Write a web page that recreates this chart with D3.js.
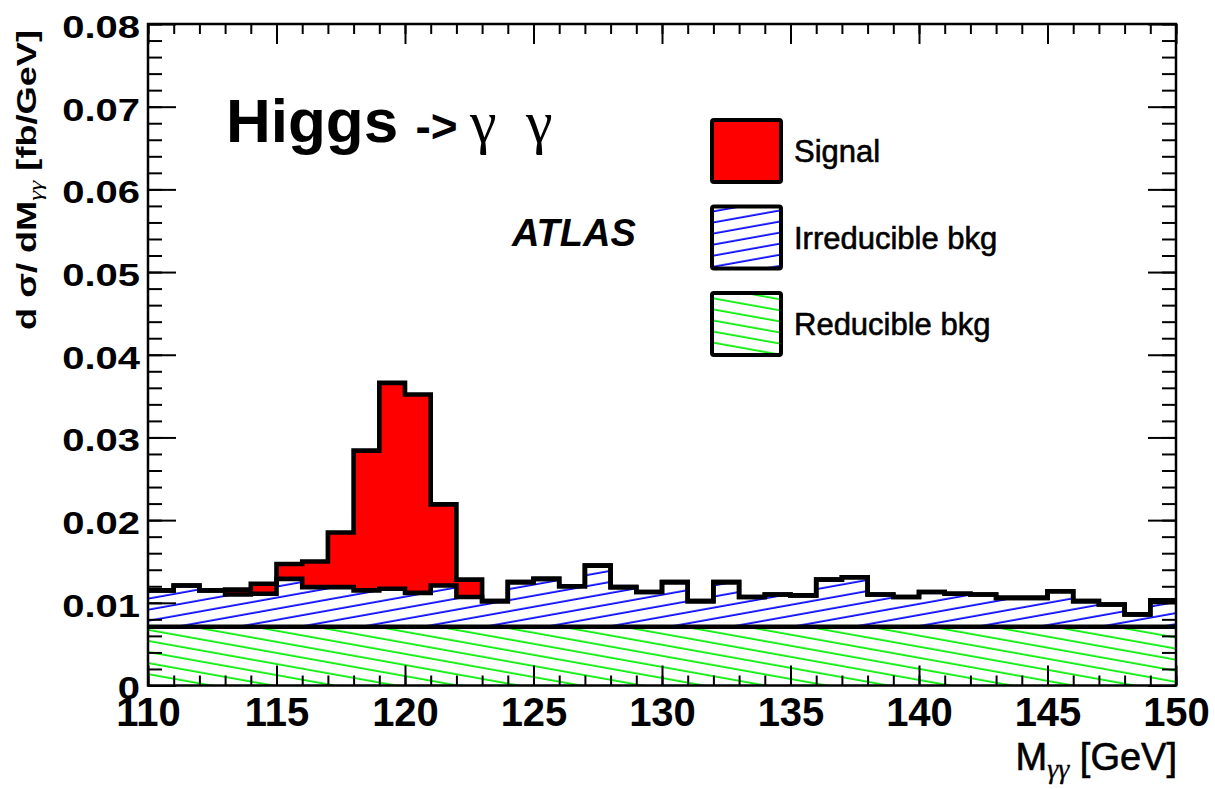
<!DOCTYPE html>
<html><head><meta charset="utf-8">
<script src="https://cdn.jsdelivr.net/npm/d3@7"></script>
<style>
body{margin:0;background:#fff}
svg{display:block}
svg text{fill:#000}
</style></head><body>
<svg id="chart" width="1215" height="789"></svg>
<script>
// Diphoton invariant mass, 1 GeV bins from 110 to 150 GeV
const binLow = [110,111,112,113,114,115,116,117,118,119,120,121,122,123,124,125,126,127,128,129,
                130,131,132,133,134,135,136,137,138,139,140,141,142,143,144,145,146,147,148,149];
const binHigh = 150;
// d sigma / dM [fb/GeV] per bin, stacked bottom to top
const reducible = [0.0071,0.0071,0.0071,0.0071,0.0071,0.0071,0.0071,0.0071,0.0071,0.0071,
                   0.0071,0.0071,0.0071,0.0071,0.0071,0.0071,0.0071,0.0071,0.0071,0.0071,
                   0.0071,0.0071,0.0071,0.0071,0.0071,0.0071,0.0071,0.0071,0.0071,0.0071,
                   0.0071,0.0071,0.0071,0.0071,0.0071,0.0071,0.0071,0.0071,0.0071,0.0071];
const irreducible = [0.0044,0.0050,0.0044,0.0039,0.0040,0.0058,0.0048,0.0048,0.0044,0.0046,
                     0.0041,0.0050,0.0036,0.0031,0.0054,0.0058,0.0049,0.0074,0.0048,0.0042,
                     0.0054,0.0031,0.0054,0.0036,0.0039,0.0038,0.0057,0.0060,0.0039,0.0036,
                     0.0042,0.0040,0.0039,0.0035,0.0035,0.0043,0.0031,0.0027,0.0015,0.0032];
const signal = [0,0,0,0.0006,0.0012,0.0018,0.0031,0.0066,0.0169,0.0249,
                0.0240,0.0098,0.0021,0,0,0,0,0,0,0,
                0,0,0,0,0,0,0,0,0,0,
                0,0,0,0,0,0,0,0,0,0];
const xMajorTicks = [110,115,120,125,130,135,140,145,150];
const yMajorTicks = [0,0.01,0.02,0.03,0.04,0.05,0.06,0.07,0.08];
const legendLabels = ["Signal","Irreducible bkg","Reducible bkg"];

const SANS = "'Liberation Sans', Arial, Helvetica, sans-serif";
const SERIF = "'Liberation Serif', 'Times New Roman', serif";

const svg = d3.select("#chart").style("font-family", SANS);
const L = 148, R = 1176, T = 24, B = 685.5;
const x = d3.scaleLinear().domain([110,150]).range([L,R]);
const y = d3.scaleLinear().domain([0,0.08]).range([B,T]);

// hatch patterns
const defs = svg.append("defs");
function hatch(id, color, angle, w) {
  const p = defs.append("pattern").attr("id", id)
    .attr("patternUnits","userSpaceOnUse")
    .attr("width", 60).attr("height", 10.9)
    .attr("patternTransform", `rotate(${angle})`);
  p.append("rect").attr("width",60).attr("height",10.9).attr("fill","#fff");
  p.append("line").attr("x1",0).attr("x2",60).attr("y1",5).attr("y2",5)
    .attr("stroke",color).attr("stroke-width",w);
}
hatch("hatchBlue","#0000ff",-10.2,1.7);
hatch("hatchGreen","#00ee00",10.2,1.7);
defs.append("clipPath").attr("id","plotClip").append("rect")
  .attr("x",L).attr("y",T).attr("width",R-L).attr("height",B-T);

// stacked rows, with a closing row at the upper edge for the step curve
const rows = binLow.map((b,i) => ({m:b, reducible:reducible[i], irreducible:irreducible[i], signal:signal[i]}));
rows.push({...rows[rows.length-1], m:binHigh});
const keys = ["reducible","irreducible","signal"];
const series = d3.stack().keys(keys)(rows);
const fills = {reducible:"url(#hatchGreen)", irreducible:"url(#hatchBlue)", signal:"#ff0000"};

const plot = svg.append("g").attr("clip-path","url(#plotClip)");
const area = d3.area().curve(d3.curveStepAfter)
  .x(d => x(d.data.m)).y0(d => y(d[0])).y1(d => y(d[1]));
const line = d3.line().curve(d3.curveStepAfter)
  .x(d => x(d.data.m)).y(d => y(d[1]));

plot.selectAll("path.fill").data(series).join("path").attr("class","fill")
  .attr("d", area).attr("fill", s => fills[s.key]).attr("stroke","none");
plot.selectAll("path.edge").data(series).join("path").attr("class","edge")
  .attr("d", line).attr("fill","none").attr("stroke","#000")
  .attr("stroke-width",4.6).attr("stroke-linejoin","miter");

// axes with inward ticks
function styleAxis(g) {
  g.select(".domain").remove();
  g.selectAll(".tick line").attr("stroke","#000").attr("stroke-width",2);
}
const xMinor = d3.range(110,151,1);
const yMinor = d3.range(0,0.0801,0.002);

svg.append("g").attr("transform",`translate(0,${B})`)
  .call(d3.axisBottom(x).tickValues(xMinor).tickSize(-10).tickFormat(""))
  .call(styleAxis);
const xAx = svg.append("g").attr("transform",`translate(0,${B})`)
  .call(d3.axisBottom(x).tickValues(xMajorTicks).tickSize(-20).tickPadding(12).tickFormat(d3.format("d")))
  .call(styleAxis);
xAx.selectAll("text").attr("font-size",40).attr("font-weight","bold")
  .style("font-family", SANS).attr("fill","#000");

svg.append("g").attr("transform",`translate(0,${T})`)
  .call(d3.axisTop(x).tickValues(xMinor).tickSize(-10).tickFormat("")).call(styleAxis);
svg.append("g").attr("transform",`translate(0,${T})`)
  .call(d3.axisTop(x).tickValues(xMajorTicks).tickSize(-20).tickFormat("")).call(styleAxis);

svg.append("g").attr("transform",`translate(${L},0)`)
  .call(d3.axisLeft(y).tickValues(yMinor).tickSize(-14).tickFormat(""))
  .call(styleAxis);
const yAx = svg.append("g").attr("transform",`translate(${L},0)`)
  .call(d3.axisLeft(y).tickValues(yMajorTicks).tickSize(-28).tickPadding(8)
    .tickFormat(v => v === 0 ? "0" : d3.format(".2f")(v)))
  .call(styleAxis);
yAx.selectAll("text").attr("font-size",32).attr("font-weight","bold")
  .style("font-family", SANS).attr("fill","#000")
  .attr("x", -8/1.25).attr("dy","0.42em")
  .attr("transform","scale(1.25,1)");

svg.append("g").attr("transform",`translate(${R},0)`)
  .call(d3.axisRight(y).tickValues(yMinor).tickSize(-14).tickFormat("")).call(styleAxis);
svg.append("g").attr("transform",`translate(${R},0)`)
  .call(d3.axisRight(y).tickValues(yMajorTicks).tickSize(-28).tickFormat("")).call(styleAxis);

// frame
svg.append("rect").attr("x",L).attr("y",T).attr("width",R-L).attr("height",B-T)
  .attr("fill","none").attr("stroke","#000").attr("stroke-width",2.5);

// axis titles
const xt = svg.append("text").attr("x",R+1).attr("y",770).attr("text-anchor","end")
  .attr("font-size",38).attr("stroke","#000").attr("stroke-width",0.6);
xt.append("tspan").text("M");
xt.append("tspan").style("font-family", SERIF).attr("font-style","italic")
  .attr("font-size",28).attr("stroke-width",0.3).attr("dy",8).text("γγ");
xt.append("tspan").attr("dy",-8).text("  [GeV]");

const yt = svg.append("text").attr("text-anchor","middle")
  .attr("transform","translate(36,180) rotate(-90) scale(1.34,1)")
  .attr("font-size",27).attr("font-weight","bold");
yt.append("tspan").text("d σ/ dM");
yt.append("tspan").style("font-family", SERIF).attr("font-style","italic")
  .attr("font-weight","normal").attr("font-size",19).attr("dy",6).text("γγ");
yt.append("tspan").attr("dy",-6).text("  [fb/GeV]");

// plot labels
const title = svg.append("text").attr("x",226).attr("y",142).attr("font-size",62).attr("font-weight","bold");
title.append("tspan").text("Higgs ");
title.append("tspan").attr("font-size",46).text("->");
const gam = svg.append("text").attr("y",142).attr("font-size",60).style("font-family", SERIF);
gam.append("tspan").attr("x",470).text("γ");
gam.append("tspan").attr("x",526).text("γ");
svg.append("text").attr("x",512).attr("y",246).attr("font-size",38)
  .attr("font-weight","bold").attr("font-style","italic").text("ATLAS");

// legend
const legFill = ["#ff0000","url(#hatchBlue)","url(#hatchGreen)"];
const leg = svg.append("g");
const item = leg.selectAll("g").data(legendLabels).join("g")
  .attr("transform",(d,i) => `translate(712,${120 + i*86.5})`);
item.append("rect").attr("width",69).attr("height",62).attr("rx",2)
  .attr("fill",(d,i) => legFill[i]).attr("stroke","#000").attr("stroke-width",4);
item.append("text").attr("x",82).attr("y",42).attr("font-size",31)
  .attr("stroke","#000").attr("stroke-width",0.6).text(d => d);
</script>
</body></html>
